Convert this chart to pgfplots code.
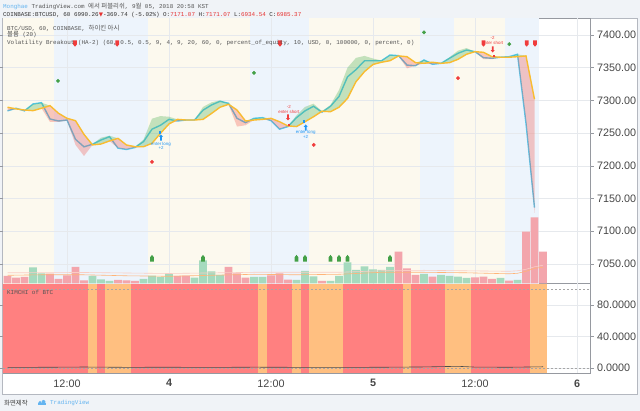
\documentclass[border=0pt]{standalone}
\usepackage{pgfplots}
\pgfplotsset{compat=1.18}
\usepackage{pgfplotstable}
\usepackage{fontspec}
\setmainfont{Liberation Sans}
\newfontfamily\mono{Liberation Mono}
\newfontfamily\cjkf{Noto Sans CJK KR}
\newfontfamily\dvs{DejaVu Sans}
\newcommand{\kr}[1]{{\cjkf\fontsize{6.4}{7}\selectfont #1}}
\newcommand{\msz}{\mono\fontsize{5.9}{7}\selectfont}

\definecolor{bgpage}{RGB}{240,243,247}
\definecolor{panel}{RGB}{180,184,192}
\definecolor{frame}{RGB}{150,153,160}
\definecolor{gridc}{RGB}{230,233,237}
\definecolor{ticktext}{RGB}{70,70,70}
\definecolor{txt}{RGB}{85,85,85}
\definecolor{bcream}{RGB}{252,249,238}
\definecolor{bblue}{RGB}{237,244,252}
\definecolor{cyanl}{RGB}{85,200,238}
\definecolor{orl}{RGB}{249,188,48}
\definecolor{fgreen}{RGB}{76,175,80}
\definecolor{fred}{RGB}{244,67,54}
\definecolor{volg}{RGB}{165,218,190}
\definecolor{volr}{RGB}{243,165,172}
\definecolor{kred}{RGB}{255,128,128}
\definecolor{kora}{RGB}{255,191,128}
\definecolor{mgreen}{RGB}{67,160,71}
\definecolor{mred}{RGB}{240,60,60}
\definecolor{tvblue}{RGB}{33,150,243}
\definecolor{tvred}{RGB}{230,50,50}
\definecolor{lblue}{RGB}{100,180,240}

\pgfdeclareplotmark{house}{%
  \pgfpathmoveto{\pgfqpoint{-1.9pt}{-3.4pt}}%
  \pgfpathlineto{\pgfqpoint{1.9pt}{-3.4pt}}%
  \pgfpathlineto{\pgfqpoint{1.9pt}{1.0pt}}%
  \pgfpathlineto{\pgfqpoint{0pt}{3.4pt}}%
  \pgfpathlineto{\pgfqpoint{-1.9pt}{1.0pt}}%
  \pgfpathclose\pgfusepathqfill}
\pgfdeclareplotmark{housedown}{%
  \pgfpathmoveto{\pgfqpoint{-1.9pt}{3.2pt}}%
  \pgfpathlineto{\pgfqpoint{1.9pt}{3.2pt}}%
  \pgfpathlineto{\pgfqpoint{1.9pt}{-1.0pt}}%
  \pgfpathlineto{\pgfqpoint{0pt}{-3.2pt}}%
  \pgfpathlineto{\pgfqpoint{-1.9pt}{-1.0pt}}%
  \pgfpathclose\pgfusepathqfill}
\pgfdeclareplotmark{arrup}{%
  \pgfpathmoveto{\pgfqpoint{0pt}{3.2pt}}%
  \pgfpathlineto{\pgfqpoint{2.0pt}{0.8pt}}%
  \pgfpathlineto{\pgfqpoint{0.9pt}{0.8pt}}%
  \pgfpathlineto{\pgfqpoint{0.9pt}{-3pt}}%
  \pgfpathlineto{\pgfqpoint{-0.9pt}{-3pt}}%
  \pgfpathlineto{\pgfqpoint{-0.9pt}{0.8pt}}%
  \pgfpathlineto{\pgfqpoint{-2.0pt}{0.8pt}}%
  \pgfpathclose\pgfusepathqfill}
\pgfdeclareplotmark{arrdown}{%
  \pgfpathmoveto{\pgfqpoint{0pt}{-3.2pt}}%
  \pgfpathlineto{\pgfqpoint{2.0pt}{-0.8pt}}%
  \pgfpathlineto{\pgfqpoint{0.9pt}{-0.8pt}}%
  \pgfpathlineto{\pgfqpoint{0.9pt}{3pt}}%
  \pgfpathlineto{\pgfqpoint{-0.9pt}{3pt}}%
  \pgfpathlineto{\pgfqpoint{-0.9pt}{-0.8pt}}%
  \pgfpathlineto{\pgfqpoint{-2.0pt}{-0.8pt}}%
  \pgfpathclose\pgfusepathqfill}
\pgfdeclareplotmark{tk}{%
  \pgfpathrectangle{\pgfqpoint{-0.9pt}{-1.3pt}}{\pgfqpoint{1.8pt}{2.6pt}}\pgfusepathqfill}

% volume heights (pixels above pane bottom)
\pgfplotstableread{
h v
-16 16
-15 10
-9 7.3
-8 4
-7 2.3
-3 4.3
-2 7.6
-1 6.3
0 9.3
3 5.6
4 23
5 12
6 8.3
10 6.3
11 6.3
15 3.3
16 12.3
17 7
19 2.3
20 7.3
21 21
22 13.3
23 17
24 14
25 13.3
26 16.3
30 9.3
32 8.3
33 7.3
34 6.6
35 5.3
39 5.3
41 3.3
}\volgreen
\pgfplotstableread{
h v
-19 7.3
-18 5.6
-17 6.3
-14 9.6
-13 4.3
-12 8
-11 16.3
-10 3
-6 3.3
-5 3
-4 2.3
1 7.3
2 7.6
7 16.3
8 10
9 5.6
12 8
13 10
14 3.6
18 2.3
27 31.6
28 15
29 8.3
31 6.6
36 6
37 6.6
38 4.3
40 2.6
42 51.6
43 66
44 31.6
}\volred
% heikin-ashi lines: h, cyan C, orange O
\pgfplotstableread{
h C O
-19 7284 7289.5
-18 7288 7287
-17 7284 7285.3
-16 7294.5 7284.3
-15 7296.5 7288
-14 7271.6 7292
-13 7268.5 7280.3
-12 7270 7272.6
-11 7240.5 7269
-10 7229 7248
-9 7233 7232
-8 7239.5 7233.3
-7 7244.5 7238
-6 7227 7242
-5 7225 7231.8
-4 7228 7229.2
-3 7237 7229.2
-2 7256 7234.4
-1 7262 7249.7
0 7271 7264
1 7268.5 7271
2 7270 7270
3 7270 7270
4 7285 7271
5 7293 7280
6 7298.6 7289.5
7 7295.6 7294
8 7272.6 7285.3
9 7266 7268.5
10 7272.6 7270
11 7273.6 7271
12 7269 7272.6
13 7256 7267.4
14 7260 7261
15 7273.6 7260
16 7284 7267.4
17 7291 7275
18 7282 7283.5
19 7291 7282.7
20 7306 7289.5
21 7336 7303
22 7347 7328.6
23 7360.6 7344
24 7360.6 7355
25 7360.6 7358.3
26 7369.4 7360.7
27 7368.4 7368
28 7354 7366.8
29 7353 7357.7
30 7361.8 7356.7
31 7355.2 7358.3
32 7356.7 7356.7
33 7364.4 7357.7
34 7372 7362.8
35 7377 7370.5
36 7374.5 7374.5
37 7365.3 7373.5
38 7364.4 7366.8
39 7366 7366
40 7366.8 7366
41 7370.5 7366.8
42 7265 7368
43 7136 7301.7
}\ha

\begin{document}
\begin{tikzpicture}[x=1pt,y=1pt]
\fill[bgpage] (0,0) rectangle (640,411);
\useasboundingbox (0,0) rectangle (640,411);
\fill[white] (2,17) rectangle (637,392.5);
\draw[panel, line width=0.6pt] (2,17) rectangle (637,392.5);

% header
\node[anchor=west, inner sep=0pt, text=txt] at (3,404.7) {\msz\textcolor{lblue}{Monghae} TradingView.com \kr{에서 퍼블리쉬}, 9\kr{월} 05, 2018 20:58 KST};
\node[anchor=west, inner sep=0pt, text=black!80] at (3,396) {\msz COINBASE:BTCUSD, 60 6990.26{\dvs\fontsize{5.5}{6}\selectfont\color{tvred}▼}-369.74 (-5.02\%) O:\textcolor{tvred}{7171.07} H:\textcolor{tvred}{7171.07} L:\textcolor{tvred}{6934.54} C:\textcolor{tvred}{6985.37}};

% lower pane: KIMCHI of BTC
\begin{axis}[
  at={(3pt,38pt)}, anchor=south west, scale only axis,
  width=587pt, height=89.7pt,
  xmin=-19.53, xmax=49.53, ymin=-6.3, ymax=107.8,
  axis line style={draw=frame, line width=0.6pt},
  xtick={-12,0,12,24,36,48},
  xticklabels={12:00,\textbf{4},12:00,\textbf{5},12:00,\textbf{6}},
  xticklabel style={font=\fontsize{10.8}{12}\selectfont, text=ticktext, yshift=0.5pt},
  ytick={0,40,80},
  yticklabel pos=right,
  yticklabel style={font=\fontsize{10.8}{12}\selectfont, text=ticktext, /pgf/number format/fixed, /pgf/number format/fixed zerofill, /pgf/number format/precision=4, /pgf/number format/assume math mode=true},
  xmajorgrids, ymajorgrids, grid style={draw=gridc, line width=0.6pt},
  tick align=outside, major tick length=3.5pt,
  xtick style={draw=none}, ytick style={draw=frame, line width=0.6pt},
]
\addplot[fill=kred, draw=none] coordinates {(-19.6,-10) (-9.5,-10) (-9.5,120) (-19.6,120)} -- cycle;
\addplot[fill=kora, draw=none] coordinates {(-9.5,-10) (-8.5,-10) (-8.5,120) (-9.5,120)} -- cycle;
\addplot[fill=kred, draw=none] coordinates {(-8.5,-10) (-7.5,-10) (-7.5,120) (-8.5,120)} -- cycle;
\addplot[fill=kora, draw=none] coordinates {(-7.5,-10) (-4.5,-10) (-4.5,120) (-7.5,120)} -- cycle;
\addplot[fill=kred, draw=none] coordinates {(-4.5,-10) (10.5,-10) (10.5,120) (-4.5,120)} -- cycle;
\addplot[fill=kora, draw=none] coordinates {(10.5,-10) (11.5,-10) (11.5,120) (10.5,120)} -- cycle;
\addplot[fill=kred, draw=none] coordinates {(11.5,-10) (14.5,-10) (14.5,120) (11.5,120)} -- cycle;
\addplot[fill=kora, draw=none] coordinates {(14.5,-10) (15.5,-10) (15.5,120) (14.5,120)} -- cycle;
\addplot[fill=kred, draw=none] coordinates {(15.5,-10) (16.5,-10) (16.5,120) (15.5,120)} -- cycle;
\addplot[fill=kora, draw=none] coordinates {(16.5,-10) (20.5,-10) (20.5,120) (16.5,120)} -- cycle;
\addplot[fill=kred, draw=none] coordinates {(20.5,-10) (27.5,-10) (27.5,120) (20.5,120)} -- cycle;
\addplot[fill=kora, draw=none] coordinates {(27.5,-10) (28.5,-10) (28.5,120) (27.5,120)} -- cycle;
\addplot[fill=kred, draw=none] coordinates {(28.5,-10) (32.5,-10) (32.5,120) (28.5,120)} -- cycle;
\addplot[fill=kora, draw=none] coordinates {(32.5,-10) (35.5,-10) (35.5,120) (32.5,120)} -- cycle;
\addplot[fill=kred, draw=none] coordinates {(35.5,-10) (42.5,-10) (42.5,120) (35.5,120)} -- cycle;
\addplot[fill=kora, draw=none] coordinates {(42.5,-10) (44.5,-10) (44.5,120) (42.5,120)} -- cycle;
\addplot[draw=gray!70, line width=0.6pt, dash pattern=on 2pt off 2pt] coordinates {(-19.53,100) (49.53,100)};
\addplot[draw=gray!70, line width=0.6pt, dash pattern=on 2pt off 2pt] coordinates {(-19.53,0) (49.53,0)};
\addplot[draw=black!70, line width=0.6pt] coordinates {(-19,0.8) (-14,1.0) (-10,1.3) (-5,0.9) (0,1.0) (5,0.8) (10,1.1) (15,0.9) (20,0.8) (25,1.0) (30,1.4) (34,2.2) (36,1.2) (40,1.0) (44,1.6)};
\end{axis}
\node[anchor=west, inner sep=0pt, text=txt] at (7,119) {\msz KIMCHI of BTC};

% main pane
\begin{axis}[
  at={(3pt,127.7pt)}, anchor=south west, scale only axis,
  width=587pt, height=264.8pt,
  xmin=-19.53, xmax=49.53, ymin=7020.4, ymax=7425.2,
  axis line style={draw=frame, line width=0.6pt},
  xtick={-12,0,12,24,36,48}, xticklabels={},
  ytick={7050,7100,7150,7200,7250,7300,7350,7400},
  yticklabel pos=right, scaled y ticks=false,
  yticklabel style={font=\fontsize{10.8}{12}\selectfont, text=ticktext, /pgf/number format/fixed, /pgf/number format/fixed zerofill, /pgf/number format/precision=2, /pgf/number format/1000 sep={}, /pgf/number format/assume math mode=true},
  tick align=outside, major tick length=3.5pt,
  xtick style={draw=none}, ytick style={draw=frame, line width=0.6pt},
]
% session background bands
\addplot[fill=bcream, draw=none] coordinates {(-19.6,7000) (-13.5,7000) (-13.5,7450) (-19.6,7450)} -- cycle;
\addplot[fill=bblue, draw=none] coordinates {(-13.5,7000) (-2.5,7000) (-2.5,7450) (-13.5,7450)} -- cycle;
\addplot[fill=bcream, draw=none] coordinates {(-2.5,7000) (9.5,7000) (9.5,7450) (-2.5,7450)} -- cycle;
\addplot[fill=bblue, draw=none] coordinates {(9.5,7000) (16.5,7000) (16.5,7450) (9.5,7450)} -- cycle;
\addplot[fill=bcream, draw=none] coordinates {(16.5,7000) (29.5,7000) (29.5,7450) (16.5,7450)} -- cycle;
\addplot[fill=bblue, draw=none] coordinates {(29.5,7000) (33.5,7000) (33.5,7450) (29.5,7450)} -- cycle;
\addplot[fill=bcream, draw=none] coordinates {(33.5,7000) (39.5,7000) (39.5,7450) (33.5,7450)} -- cycle;
\addplot[fill=bblue, draw=none] coordinates {(39.5,7000) (43.5,7000) (43.5,7450) (39.5,7450)} -- cycle;
% grid lines
\addplot[draw=gridc, line width=0.6pt] coordinates {(-12,7000) (-12,7450)};
\addplot[draw=gridc, line width=0.6pt] coordinates {(0,7000) (0,7450)};
\addplot[draw=gridc, line width=0.6pt] coordinates {(12,7000) (12,7450)};
\addplot[draw=gridc, line width=0.6pt] coordinates {(24,7000) (24,7450)};
\addplot[draw=gridc, line width=0.6pt] coordinates {(36,7000) (36,7450)};
\addplot[draw=gridc, line width=0.6pt] coordinates {(48,7000) (48,7450)};
\addplot[draw=gridc, line width=0.6pt] coordinates {(-20,7050) (50,7050)};
\addplot[draw=gridc, line width=0.6pt] coordinates {(-20,7100) (50,7100)};
\addplot[draw=gridc, line width=0.6pt] coordinates {(-20,7150) (50,7150)};
\addplot[draw=gridc, line width=0.6pt] coordinates {(-20,7200) (50,7200)};
\addplot[draw=gridc, line width=0.6pt] coordinates {(-20,7250) (50,7250)};
\addplot[draw=gridc, line width=0.6pt] coordinates {(-20,7300) (50,7300)};
\addplot[draw=gridc, line width=0.6pt] coordinates {(-20,7350) (50,7350)};
\addplot[draw=gridc, line width=0.6pt] coordinates {(-20,7400) (50,7400)};

% cyan line
\addplot[draw=cyanl, line width=1.4pt] table[x=h, y=C] {\ha};
% green cloud: upper boundary then orange line backwards
\addplot[fill=fgreen, fill opacity=0.32, draw=none] coordinates {
(-19,7289.5) (-18,7288) (-17,7285.3) (-16,7294.5) (-15,7296.5) (-14,7292) (-13,7280.3) (-12,7272.6) (-11,7269) (-10,7248) (-9,7233) (-8,7243) (-7,7246) (-6,7242) (-5,7231.8) (-4,7229.2) (-3,7240) (-2,7272) (-1,7276) (0,7275) (1,7271) (2,7270) (3,7270) (4,7290) (5,7297) (6,7300) (7,7295.6) (8,7285.3) (9,7268.5) (10,7272.6) (11,7273.6) (12,7272.6) (13,7267.4) (14,7261) (15,7277) (16,7290) (17,7295) (18,7283.5) (19,7293) (20,7316) (21,7350) (22,7365) (23,7368) (24,7364) (25,7361) (26,7369.4) (27,7368.4) (28,7366.8) (29,7357.7) (30,7361.8) (31,7358.3) (32,7356.7) (33,7366) (34,7376) (35,7380) (36,7374.5) (37,7373.5) (38,7366.8) (39,7366) (40,7366.8) (41,7370.5) (42,7368) (43,7301.7)
(43,7301.7) (42,7368) (41,7366.8) (40,7366) (39,7366) (38,7366.8) (37,7373.5) (36,7374.5) (35,7370.5) (34,7362.8) (33,7357.7) (32,7356.7) (31,7358.3) (30,7356.7) (29,7357.7) (28,7366.8) (27,7368) (26,7360.7) (25,7358.3) (24,7355) (23,7344) (22,7328.6) (21,7303) (20,7289.5) (19,7282.7) (18,7283.5) (17,7275) (16,7267.4) (15,7260) (14,7261) (13,7267.4) (12,7272.6) (11,7271) (10,7270) (9,7268.5) (8,7285.3) (7,7294) (6,7289.5) (5,7280) (4,7271) (3,7270) (2,7270) (1,7271) (0,7264) (-1,7249.7) (-2,7234.4) (-3,7229.2) (-4,7229.2) (-5,7231.8) (-6,7242) (-7,7238) (-8,7233.3) (-9,7232) (-10,7248) (-11,7269) (-12,7272.6) (-13,7280.3) (-14,7292) (-15,7288) (-16,7284.3) (-17,7285.3) (-18,7287) (-19,7289.5)
} -- cycle;
% red cloud: lower boundary then orange line backwards
\addplot[fill=fred, fill opacity=0.28, draw=none] coordinates {
(-19,7284) (-18,7287) (-17,7284) (-16,7284.3) (-15,7288) (-14,7267) (-13,7267) (-12,7269) (-11,7232) (-10,7215) (-9,7232) (-8,7233.3) (-7,7238) (-6,7227) (-5,7225) (-4,7228) (-3,7229.2) (-2,7234.4) (-1,7249.7) (0,7264) (1,7268.5) (2,7270) (3,7270) (4,7271) (5,7280) (6,7289.5) (7,7294) (8,7260) (9,7262) (10,7270) (11,7271) (12,7269) (13,7256) (14,7260) (15,7260) (16,7267.4) (17,7275) (18,7282) (19,7282.7) (20,7289.5) (21,7303) (22,7328.6) (23,7344) (24,7355) (25,7358.3) (26,7360.7) (27,7368) (28,7349) (29,7353) (30,7356.7) (31,7355.2) (32,7356.7) (33,7357.7) (34,7362.8) (35,7370.5) (36,7374.5) (37,7363) (38,7363) (39,7366) (40,7366) (41,7366.8) (42,7265) (43,7128)
(43,7301.7) (42,7368) (41,7366.8) (40,7366) (39,7366) (38,7366.8) (37,7373.5) (36,7374.5) (35,7370.5) (34,7362.8) (33,7357.7) (32,7356.7) (31,7358.3) (30,7356.7) (29,7357.7) (28,7366.8) (27,7368) (26,7360.7) (25,7358.3) (24,7355) (23,7344) (22,7328.6) (21,7303) (20,7289.5) (19,7282.7) (18,7283.5) (17,7275) (16,7267.4) (15,7260) (14,7261) (13,7267.4) (12,7272.6) (11,7271) (10,7270) (9,7268.5) (8,7285.3) (7,7294) (6,7289.5) (5,7280) (4,7271) (3,7270) (2,7270) (1,7271) (0,7264) (-1,7249.7) (-2,7234.4) (-3,7229.2) (-4,7229.2) (-5,7231.8) (-6,7242) (-7,7238) (-8,7233.3) (-9,7232) (-10,7248) (-11,7269) (-12,7272.6) (-13,7280.3) (-14,7292) (-15,7288) (-16,7284.3) (-17,7285.3) (-18,7287) (-19,7289.5)
} -- cycle;
% orange line
\addplot[draw=orl, line width=1.4pt] table[x=h, y=O] {\ha};

% markers
\addplot[only marks, mark=*, mark size=1.7pt, color=mgreen] coordinates {(-13.06,7329.7) (10,7342) (30,7404) (40.04,7386)};
\addplot[only marks, mark=*, mark size=1.7pt, color=mred] coordinates {(-2,7206) (17.03,7232) (34,7334)};
\addplot[only marks, mark=housedown, color=mred] coordinates {(-11.06,7387) (-6.1,7387) (13.06,7387) (37,7387) (42.08,7387) (43.06,7387)};
\addplot[only marks, mark=arrup, color=tvblue] coordinates {(-0.94,7243) (16.08,7258.3)};
\addplot[only marks, mark=tk, color=tvblue] coordinates {(-1.1,7250.6) (15.9,7267.4)};
\addplot[only marks, mark=arrdown, color=mred] coordinates {(14.0,7274.2) (38.08,7378.1)};
\addplot[only marks, mark=tk, color=mred] coordinates {(14.15,7262.4) (38.2,7367.9)};

\node[text=tvblue, font=\fontsize{4.4}{5}\selectfont, inner sep=0pt] at (axis cs:-0.94,7233.3) {enter long};
\node[text=tvblue, font=\fontsize{4.4}{5}\selectfont, inner sep=0pt] at (axis cs:-0.94,7226.8) {+2};
\node[text=tvblue, font=\fontsize{4.4}{5}\selectfont, inner sep=0pt] at (axis cs:16.08,7251.2) {enter long};
\node[text=tvblue, font=\fontsize{4.4}{5}\selectfont, inner sep=0pt] at (axis cs:16.08,7243.6) {+2};
\node[text=mred, font=\fontsize{4.4}{5}\selectfont, inner sep=0pt] at (axis cs:14.1,7290.4) {-2};
\node[text=mred, font=\fontsize{4.4}{5}\selectfont, inner sep=0pt] at (axis cs:14.1,7281.8) {enter short};
\node[text=mred, font=\fontsize{4.4}{5}\selectfont, inner sep=0pt] at (axis cs:38.08,7395.9) {-2};
\node[text=mred, font=\fontsize{4.4}{5}\selectfont, inner sep=0pt] at (axis cs:38.08,7388.2) {enter short};
\end{axis}

% volume overlay (pixel heights above pane bottom)
\begin{axis}[
  at={(3pt,127.7pt)}, anchor=south west, scale only axis,
  width=587pt, height=264.8pt,
  xmin=-19.53, xmax=49.53, ymin=0, ymax=264.8,
  hide axis,
]
\addplot[ybar, bar shift=0pt, bar width=7.6pt, fill=volg, draw=none] table[x=h, y=v] {\volgreen};
\addplot[ybar, bar shift=0pt, bar width=7.6pt, fill=volr, draw=none] table[x=h, y=v] {\volred};
\addplot[draw={rgb,255:red,250;green,205;blue,195}, line width=0.6pt] coordinates {(-19,10.5) (-10,10.8) (0,9.8) (10,11) (20,11) (25,12.5) (30,13) (35,12.5) (40,12) (41,12.5) (42,14) (43,16.5) (44,18)};
\addplot[draw={rgb,255:red,255;green,180;blue,120}, line width=0.6pt] coordinates {(-19,8) (-15,8.5) (-10,8.5) (-5,7.5) (0,7) (5,8) (10,9) (15,8.5) (20,9) (25,11) (30,11) (35,10.5) (40,9.5) (41,10) (42,12) (43,15) (44,16)};
\addplot[only marks, mark=house, color=mgreen] coordinates {(-2,25) (4,25) (15,25) (16,25) (19,25) (20,25) (21,25) (26,25)};
\end{axis}

% legends in main pane
\node[anchor=west, inner sep=0pt, text=txt] at (7,383) {\msz BTC/USD, 60, COINBASE, \kr{하이킨 아시}};
\node[anchor=west, inner sep=0pt, text=txt] at (7,376.3) {\msz\kr{볼륨} (20)};
\node[anchor=west, inner sep=0pt, text=txt] at (7,368.3) {\msz Volatility Breakout (HA-2) (60, 0.5, 0.5, 9, 4, 9, 20, 60, 0, percent\_of\_equity, 10, USD, 0, 100000, 0, percent, 0)};

% footer
\node[anchor=west, inner sep=0pt, text=black!75] at (4,8) {\kr{화면제작}};
\fill[lblue] (38,6.2) rectangle (46,8.2);
\fill[lblue] (40,8.4) circle (1.6);
\fill[lblue] (43.5,9.0) circle (2.0);
\node[anchor=west, inner sep=0pt, text=lblue] at (50,8) {\msz TradingView};
\end{tikzpicture}
\end{document}
